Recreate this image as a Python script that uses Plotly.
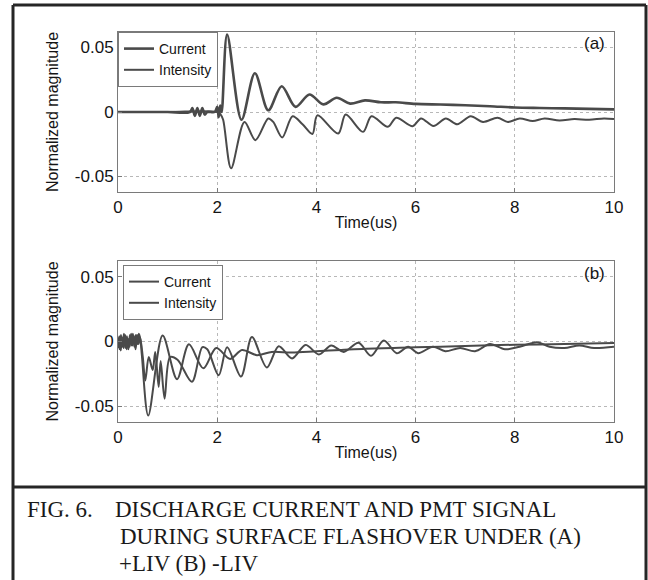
import plotly.graph_objects as go

# ---------------- data ----------------
# (a) +LIV
a_cur_t = [0, 0.5, 1.0, 1.45, 1.5, 1.55, 1.6, 1.65, 1.7, 1.75, 1.8, 1.95, 2.0, 2.03, 2.06, 2.09,
           2.2, 2.49, 2.76, 3.03, 3.3, 3.58, 3.86, 4.14, 4.41, 4.68, 4.98, 5.3, 5.6, 6.0,
           6.5, 7.0, 7.5, 8.0, 8.5, 9.0, 9.5, 10.0]
a_cur_y = [0, 0, 0, 0, 0.003, -0.003, 0.003, -0.003, 0.003, -0.002, 0, 0, 0.004, -0.004, 0.005, 0.0,
           0.060, -0.006, 0.030, 0.0013, 0.020, 0.004, 0.0136, 0.0059, 0.011, 0.0065, 0.009, 0.0075, 0.0075, 0.0063,
           0.0058, 0.0052, 0.0045, 0.0035, 0.0031, 0.0028, 0.0024, 0.002]

a_int_t = [0, 1.0, 2.0, 2.07, 2.12, 2.28, 2.55, 2.77, 3.03, 3.13, 3.31, 3.52, 3.72, 3.92, 4.02,
           4.44, 4.59, 4.94, 5.11, 5.44, 5.61, 5.94, 6.11, 6.36, 6.61, 6.84, 7.11, 7.36, 7.65,
           7.86, 8.1, 8.36, 8.6, 8.9, 9.2, 9.5, 9.8, 10.0]
a_int_y = [0, 0, 0, -0.002, -0.006, -0.0436, -0.0077, -0.0218, -0.005, -0.0077, -0.0197, -0.0033, -0.0095, -0.017, -0.0026,
           -0.0167, -0.002, -0.0154, -0.0033, -0.0115, -0.0044, -0.011, -0.005, -0.0108, -0.005, -0.0095, -0.0033, -0.0077, -0.0044,
           -0.0077, -0.005, -0.007, -0.005, -0.0065, -0.0055, -0.006, -0.005, -0.0055]

# (b) -LIV
b_cur_t = [0, 0.03, 0.06, 0.09, 0.12, 0.15, 0.18, 0.21, 0.24, 0.27, 0.30, 0.33, 0.36, 0.39, 0.42, 0.45, 0.48,
           0.61, 0.90, 1.19, 1.43, 1.72, 1.98, 2.26, 2.5, 2.8, 3.1, 3.5, 4.0, 4.5, 5.0, 6.0, 7.0, 8.0, 9.0, 10.0]
b_cur_y = [0.003, -0.006, 0.005, -0.004, 0.006, -0.005, 0.004, -0.006, 0.005, -0.003, 0.006, -0.004, 0.005, -0.002, 0.006, 0.002, -0.01,
           -0.057, 0.0046, -0.029, -0.0022, -0.0206, -0.005, -0.0134, -0.0065, -0.0105, -0.008, -0.0085, -0.0075, -0.0065, -0.0055,
           -0.0045, -0.0035, -0.0025, -0.002, -0.0012]

b_int_t = [0, 0.025, 0.055, 0.085, 0.115, 0.145, 0.175, 0.205, 0.235, 0.265, 0.295, 0.325, 0.355, 0.385, 0.415, 0.445,
           0.5, 0.55, 0.62, 0.7, 0.75, 0.82, 0.86, 0.94, 1.05, 1.2, 1.49, 1.70, 1.8, 2.03, 2.2, 2.48, 2.70, 3.0, 3.24,
           3.51, 3.78, 4.05, 4.3, 4.55, 4.85, 5.1, 5.36, 5.62, 5.85, 6.05, 6.35, 6.6, 6.9, 7.2, 7.5, 7.8, 8.1, 8.45,
           8.7, 9.0, 9.3, 9.6, 10.0]
b_int_y = [-0.005, 0.004, -0.007, 0.003, -0.005, 0.005, -0.006, 0.002, -0.004, 0.006, -0.003, 0.004, -0.006, 0.005, -0.002, 0.003,
           -0.012, -0.03, -0.012, -0.022, -0.008, -0.035, -0.015, -0.044, -0.012, -0.014, -0.031, -0.0044, -0.006, -0.026, -0.0044,
           -0.027, 0.0034, -0.020, -0.0036, -0.013, -0.0026, -0.010, -0.003, -0.008, -0.001, -0.011, 0.0008, -0.009, -0.004,
           -0.009, -0.004, -0.0075, -0.005, -0.0075, -0.002, -0.006, -0.004, -0.0005, -0.004, -0.005, -0.003, -0.005, -0.004]

x_ticks = [0, 2, 4, 6, 8, 10]
y_ticks = [-0.05, 0, 0.05]
y_tick_text = ["-0.05", "0", "0.05"]
series_names = ["Current", "Intensity"]
panel_tags = ["(a)", "(b)"]
caption_lines = ["FIG. 6.", "DISCHARGE CURRENT AND PMT SIGNAL",
                 "DURING SURFACE FLASHOVER UNDER (A)", "+LIV (B) -LIV"]

# ---------------- figure ----------------
W, H = 648, 580
LINE = "#4a4a4a"
TXT = "#141414"
FONT = "Liberation Sans, Arial, sans-serif"

fig = go.Figure()
fig.add_trace(go.Scatter(x=a_cur_t, y=a_cur_y, name=series_names[0], mode="lines",
                         line=dict(color=LINE, width=2.6, shape="spline", smoothing=0.9),
                         xaxis="x", yaxis="y", legend="legend"))
fig.add_trace(go.Scatter(x=a_int_t, y=a_int_y, name=series_names[1], mode="lines",
                         line=dict(color=LINE, width=2, shape="spline", smoothing=0.9),
                         xaxis="x", yaxis="y", legend="legend"))
fig.add_trace(go.Scatter(x=b_cur_t, y=b_cur_y, name=series_names[0], mode="lines",
                         line=dict(color=LINE, width=2, shape="spline", smoothing=0.9),
                         xaxis="x2", yaxis="y2", legend="legend2"))
fig.add_trace(go.Scatter(x=b_int_t, y=b_int_y, name=series_names[1], mode="lines",
                         line=dict(color=LINE, width=2, shape="spline", smoothing=0.9),
                         xaxis="x2", yaxis="y2", legend="legend2"))

def px(v):
    return v / W

def py(v):
    return 1 - v / H

xdom = [px(118), px(614)]
ydom_a = [py(192), py(32)]
ydom_b = [py(422), py(261)]

common_x = dict(range=[0, 10], tickvals=x_ticks, showgrid=True, gridcolor="#b8b8b8", griddash="dot",
                gridwidth=1, showline=True, linecolor="#7a7a7a", linewidth=1, mirror=True,
                ticks="inside", ticklen=4, tickcolor="#7a7a7a", zeroline=False,
                tickfont=dict(family=FONT, size=17, color=TXT), automargin=False,
                title=dict(text="Time(us)", font=dict(family=FONT, size=16, color=TXT), standoff=0))
common_y = dict(range=[-0.062, 0.062], tickvals=y_ticks, ticktext=y_tick_text, showgrid=True,
                gridcolor="#b8b8b8", griddash="dot", gridwidth=1, showline=True, linecolor="#7a7a7a",
                linewidth=1, mirror=True, ticks="inside", ticklen=4, tickcolor="#7a7a7a", zeroline=False,
                tickfont=dict(family=FONT, size=17, color=TXT), automargin=False,
                title=dict(text="Normalized magnitude", font=dict(family=FONT, size=16, color=TXT), standoff=12))

legend_style = dict(xanchor="left", yanchor="top", bgcolor="white", bordercolor="#7a7a7a", borderwidth=1,
                    font=dict(family=FONT, size=14, color=TXT), tracegroupgap=0, itemwidth=30)

fig.update_layout(
    width=W, height=H, autosize=False,
    margin=dict(l=0, r=0, t=0, b=0),
    paper_bgcolor="white", plot_bgcolor="white",
    showlegend=True,
    xaxis=dict(domain=xdom, anchor="y", **common_x),
    yaxis=dict(domain=ydom_a, anchor="x", **common_y),
    xaxis2=dict(domain=xdom, anchor="y2", **common_x),
    yaxis2=dict(domain=ydom_b, anchor="x2", **common_y),
    legend=dict(x=px(118), y=py(32), **legend_style),
    legend2=dict(x=px(123), y=py(265), **legend_style),
)

# panel tags
fig.add_annotation(text=panel_tags[0], xref="x domain", yref="y domain", x=0.985, y=0.93,
                   xanchor="right", yanchor="middle", showarrow=False,
                   font=dict(family=FONT, size=17, color=TXT))
fig.add_annotation(text=panel_tags[1], xref="x2 domain", yref="y2 domain", x=0.985, y=0.92,
                   xanchor="right", yanchor="middle", showarrow=False,
                   font=dict(family=FONT, size=17, color=TXT))

# outer frame and caption separator
FR = "#262626"
for (x0, y0, x1, y1) in [(13, 5, 13, 580), (646, 5, 646, 580), (13, 5, 646, 5), (13, 487, 646, 487)]:
    fig.add_shape(type="line", xref="paper", yref="paper", x0=px(x0), y0=py(y0), x1=px(x1), y1=py(y1),
                  line=dict(color=FR, width=3))

# caption
SERIF = "Liberation Serif, Times New Roman, serif"
cap = [(caption_lines[0], 25, 509), (caption_lines[1], 113, 509),
       (caption_lines[2], 118, 536), (caption_lines[3], 117, 563)]
for txt, x, y in cap:
    fig.add_annotation(text=txt, xref="paper", yref="paper", x=px(x), y=py(y), xanchor="left",
                       yanchor="middle", showarrow=False, font=dict(family=SERIF, size=23, color="#1a1a1a"))

fig.write_html("out.html")
